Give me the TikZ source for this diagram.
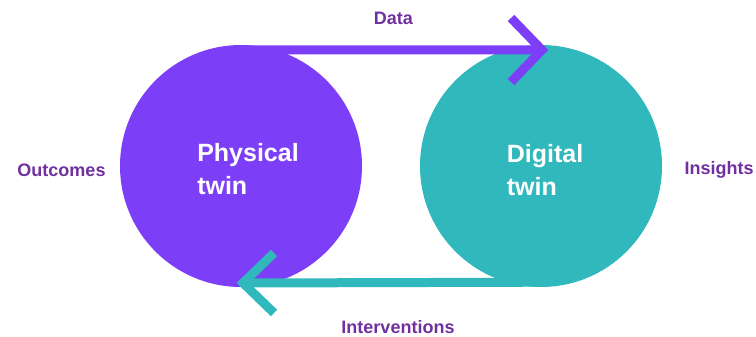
\documentclass[tikz,border=0pt]{standalone}
\usepackage{fontspec}
\setmainfont{Liberation Sans}
\definecolor{twinpurple}{RGB}{124,62,246}
\definecolor{twinteal}{RGB}{49,184,188}
\definecolor{labelpurple}{RGB}{112,48,160}
\begin{document}
\begin{tikzpicture}[x=1pt,y=-1pt,
  twin/.style={circle,minimum size=242pt,inner sep=0pt},
  twintext/.style={text=white,font=\fontsize{25}{33}\selectfont\bfseries,align=left},
  sidelabel/.style={text=labelpurple,font=\fontsize{18}{20}\selectfont\bfseries,inner sep=1pt},
  flow/.style={line width=9pt},
  chev/.style={line width=9pt,line join=miter,line cap=butt}]
\useasboundingbox (0,0) rectangle (756,337);
\node[twin,fill=twinpurple] (phys) at (241,166) {};
\node[twin,fill=twinteal] (dig) at (541,166) {};
\node[twintext] (ptext) at (248,169) {Physical\\twin};
\node[twintext] (dtext) at (545,170) {Digital\\twin};
% Data arrow
\coordinate (dtip) at ([xshift=0pt,yshift=116pt]dig.center);
\draw[flow,twinpurple] ([yshift=-5pt]phys.north) -- (dtip);
\draw[chev,twinpurple] ([xshift=-30pt,yshift=32pt]dtip) -- ([xshift=1pt]dtip) -- ([xshift=-30pt,yshift=-32pt]dtip);
% Interventions arrow
\coordinate (itip) at ([xshift=3pt,yshift=-117pt]phys.center);
\draw[flow,twinteal] ([yshift=5pt]dig.south) -- (itip);
\draw[chev,twinteal] ([xshift=30pt,yshift=30pt]itip) -- ([xshift=-1pt]itip) -- ([xshift=30pt,yshift=-30pt]itip);
% Labels
\node[sidelabel] (ldata) at (393.5,18) {Data};
\node[sidelabel] (linter) at (398,327) {Interventions};
\node[sidelabel] (lout) at (61.5,170) {Outcomes};
\node[sidelabel] (lins) at (719,170) {Insights};
\end{tikzpicture}
\end{document}
